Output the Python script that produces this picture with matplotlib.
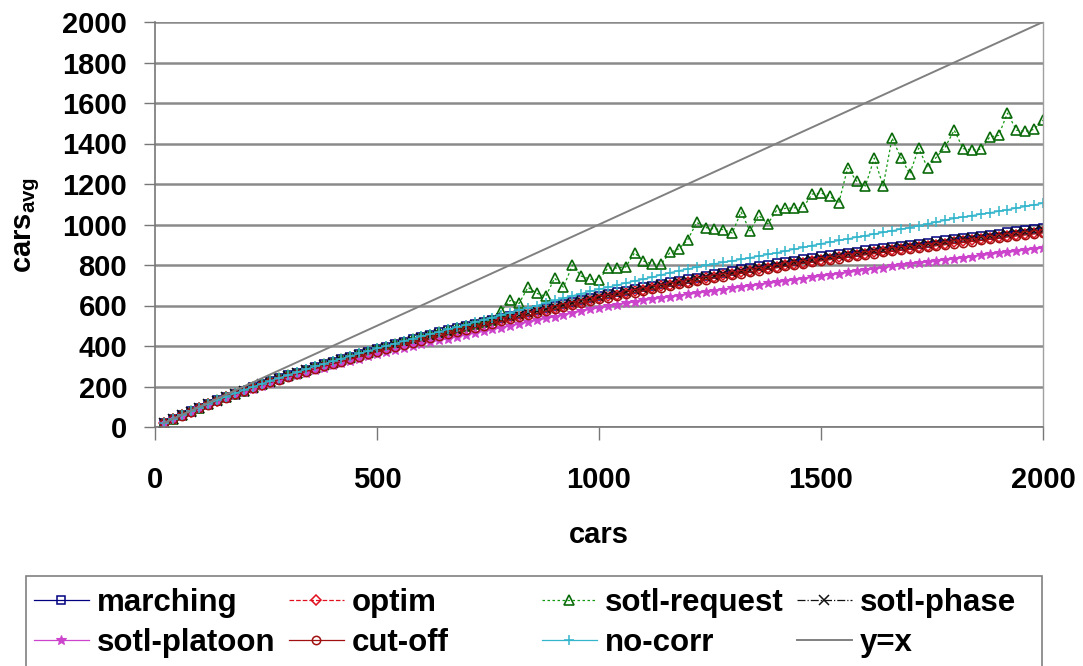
import matplotlib
matplotlib.use('Agg')
from matplotlib import pyplot as plt
from matplotlib.patches import Rectangle

### Set MPL plot parameters
plt.rcParams['font.family'] = 'Liberation Sans'
plt.rcParams['font.weight'] = 'bold'
plt.rcParams['axes.labelweight'] = 'bold'
plt.rcParams['mathtext.fontset'] = 'custom'
plt.rcParams['mathtext.bf'] = 'Liberation Sans:bold'
plt.rcParams['mathtext.rm'] = 'Liberation Sans:bold'

### Data (cars on x, cars_avg on y)
cars = list(range(20, 2001, 20))

marching = [19, 39, 58, 77, 95, 113, 131, 148, 164, 180,
            196, 211, 227, 241, 255, 269, 283, 296, 310, 322,
            335, 347, 360, 372, 385, 397, 409, 421, 433, 445,
            456, 467, 478, 488, 498, 508, 518, 528, 538, 549,
            558, 568, 578, 589, 598, 608, 618, 628, 638, 648,
            656, 665, 673, 682, 690, 698, 706, 714, 722, 730,
            738, 746, 754, 762, 770, 778, 785, 793, 800, 808,
            815, 822, 828, 835, 842, 848, 854, 860, 866, 872,
            878, 883, 889, 894, 900, 906, 911, 917, 922, 928,
            933, 939, 944, 950, 955, 961, 967, 973, 979, 985]

optim = [19, 38, 57, 76, 94, 112, 129, 146, 162, 178,
         193, 208, 222, 236, 250, 263, 276, 289, 302, 314,
         326, 338, 350, 362, 374, 386, 398, 409, 421, 432,
         443, 454, 465, 476, 487, 497, 507, 517, 527, 537,
         548, 558, 568, 578, 588, 598, 608, 617, 627, 636,
         645, 653, 662, 670, 678, 686, 694, 702, 710, 718,
         726, 734, 742, 749, 757, 764, 771, 778, 785, 792,
         799, 806, 812, 819, 826, 832, 838, 844, 850, 856,
         862, 868, 873, 879, 884, 890, 895, 901, 906, 912,
         917, 922, 927, 933, 938, 944, 949, 954, 959, 964]

sotl_request = [19, 39, 58, 77, 95, 113, 131, 148, 164, 180,
                196, 211, 226, 241, 255, 269, 283, 296, 309, 322,
                335, 347, 360, 372, 385, 397, 409, 421, 433, 445,
                456, 467, 477, 488, 498, 508, 518, 528, 575, 625,
                610, 690, 660, 645, 735, 690, 800, 745, 730, 728,
                785, 785, 790, 860, 820, 805, 805, 862, 880, 925,
                1010, 985, 978, 975, 958, 1062, 968, 1045, 1003, 1070,
                1080, 1082, 1085, 1150, 1155, 1140, 1106, 1279, 1215, 1190,
                1328, 1190, 1427, 1330, 1250, 1377, 1280, 1333, 1383, 1466,
                1375, 1368, 1372, 1432, 1440, 1550, 1466, 1460, 1470, 1516]

sotl_phase = [19, 39, 57, 76, 95, 112, 130, 147, 163, 179,
              195, 210, 224, 239, 253, 266, 280, 293, 306, 318,
              331, 343, 355, 367, 379, 391, 403, 415, 427, 438,
              449, 460, 471, 481, 492, 502, 512, 522, 532, 542,
              552, 562, 572, 582, 592, 602, 612, 622, 632, 642,
              650, 659, 667, 675, 683, 691, 699, 707, 715, 723,
              731, 739, 747, 755, 762, 770, 777, 784, 792, 799,
              806, 813, 819, 826, 833, 840, 846, 852, 858, 864,
              870, 876, 882, 887, 893, 899, 904, 910, 916, 921,
              927, 932, 938, 943, 949, 954, 960, 965, 970, 975]

sotl_platoon = [19, 38, 56, 75, 93, 110, 127, 144, 160, 175,
                190, 204, 218, 232, 245, 257, 269, 281, 293, 305,
                316, 327, 338, 349, 360, 370, 380, 390, 400, 410,
                419, 428, 437, 446, 455, 464, 473, 482, 491, 500,
                509, 518, 527, 536, 545, 554, 563, 572, 581, 590,
                597, 604, 611, 618, 625, 631, 637, 643, 649, 655,
                661, 667, 673, 679, 685, 691, 697, 703, 709, 715,
                721, 727, 733, 739, 745, 751, 757, 763, 769, 775,
                781, 787, 793, 799, 805, 810, 815, 820, 825, 830,
                836, 841, 847, 852, 858, 863, 868, 874, 879, 884]

cut_off = [19, 38, 56, 75, 93, 111, 128, 145, 161, 177,
           192, 206, 220, 234, 248, 261, 274, 287, 299, 311,
           323, 335, 347, 359, 371, 383, 394, 405, 416, 427,
           438, 449, 460, 470, 481, 491, 501, 511, 521, 531,
           541, 551, 561, 571, 581, 591, 601, 611, 621, 631,
           639, 648, 656, 664, 672, 680, 688, 696, 704, 712,
           720, 728, 736, 743, 751, 758, 765, 772, 779, 786,
           793, 800, 807, 814, 820, 826, 832, 838, 844, 850,
           856, 862, 867, 873, 878, 884, 889, 895, 900, 906,
           911, 916, 921, 927, 932, 938, 943, 948, 953, 958]

no_corr = [20, 39, 59, 78, 96, 114, 132, 150, 166, 182,
           198, 213, 228, 243, 257, 271, 285, 299, 312, 325,
           338, 350, 363, 375, 388, 400, 412, 424, 436, 448,
           459, 470, 482, 493, 505, 517, 529, 540, 552, 565,
           577, 588, 600, 613, 625, 636, 648, 659, 670, 680,
           690, 700, 711, 721, 730, 740, 751, 762, 772, 780,
           790, 798, 806, 813, 820, 828, 836, 844, 852, 860,
           869, 878, 887, 896, 905, 913, 921, 929, 937, 945,
           953, 961, 969, 977, 985, 994, 1003, 1012, 1021, 1030,
           1037, 1044, 1051, 1058, 1065, 1073, 1081, 1089, 1097, 1105]

yx_cars = [20, 2000]
yx_avg = [20, 2000]

### Initiate plot
W, H = 1083, 666
fig = plt.figure(figsize=(W / 100, H / 100), dpi=100)
ax = fig.add_axes([155 / W, 1 - 427 / H, 888 / W, 405 / H])

# Grid at every 200
ax.set_axisbelow(True)
ax.yaxis.grid(True, color='#8a8a8a', linewidth=1.8)

ms = 6.5
mw = 1.1
lw = 0.9
ax.plot(cars, marching, color='#000080', lw=lw, marker='s', ms=ms - 0.5, mfc='none', mew=mw, label='marching')
ax.plot(cars, optim, color='#e0101e', lw=lw, ls='--', marker='D', ms=ms - 1.5, mfc='none', mew=mw, label='optim')
ax.plot(cars, sotl_request, color='#119911', lw=lw, ls=(0, (2, 2)), marker='^', ms=ms + 0.5, mfc='none',
        mec='#0a6a0a', mew=1.2, label='sotl-request')
ax.plot(cars, sotl_phase, color='#111111', lw=lw, ls='-.', marker='x', ms=ms, mew=mw, label='sotl-phase')
ax.plot(cars, sotl_platoon, color='#cc44cc', lw=lw, marker='*', ms=ms + 1, mew=0.8, label='sotl-platoon')
ax.plot(cars, cut_off, color='#a01010', lw=lw, marker='o', ms=ms - 0.5, mfc='none', mew=mw, label='cut-off')
ax.plot(cars, no_corr, color='#33b5cc', lw=lw, marker='+', ms=ms + 1, mew=1.1, label='no-corr')
ax.plot(yx_cars, yx_avg, color='#808080', lw=1.4, label='y=x')

# Axis limits and ticks
ax.set_xlim(0, 2000)
ax.set_ylim(0, 2000)
ax.set_xticks([0, 500, 1000, 1500, 2000])
ax.set_yticks(range(0, 2001, 200))
ax.tick_params(axis='y', direction='out', length=8, width=1, color='#777777', pad=12, labelsize=21)
ax.tick_params(axis='x', direction='out', length=9, width=1, color='#777777', pad=19, labelsize=21)

# Borders
for side in ['left', 'bottom']:
    ax.spines[side].set_color('#777777')
    ax.spines[side].set_linewidth(1.2)
ax.spines['right'].set_color('#a0a0a0')
ax.spines['right'].set_linewidth(1.0)
ax.spines['top'].set_visible(False)

# Axis labels
ax.set_xlabel('cars', fontsize=21, fontweight='bold')
ax.xaxis.label.set_va('baseline')
ax.xaxis.set_label_coords(0.5, (427 - 543) / 405)
ax.set_ylabel(r'cars$_{\mathbf{avg}}$', fontsize=21, fontweight='bold')
ax.yaxis.label.set_va('center')
ax.yaxis.set_label_coords((28 - 155) / 888, 0.5)

# Legend box below the plot, 4 columns x 2 rows
fig.patches.append(Rectangle((26 / W, (H - 720) / H), (1042 - 26) / W, (720 - 576) / H,
                             transform=fig.transFigure, fill=False, edgecolor='#808080', lw=1.2))
handles = ax.get_lines()
cols = [(handles[0], handles[4]), (handles[1], handles[5]),
        (handles[2], handles[6]), (handles[3], handles[7])]
col_x = [34, 289, 542, 797]
for (h1, h2), x0 in zip(cols, col_x):
    fig.legend([h1, h2], [h1.get_label(), h2.get_label()], loc='upper left',
               bbox_to_anchor=(x0 / W, 1 - 588 / H), frameon=False, borderpad=0,
               borderaxespad=0, handlelength=1.75, handletextpad=0.25, labelspacing=0.33,
               prop={'size': 22.5, 'weight': 'bold'})

plt.savefig('out.png', dpi=100)
